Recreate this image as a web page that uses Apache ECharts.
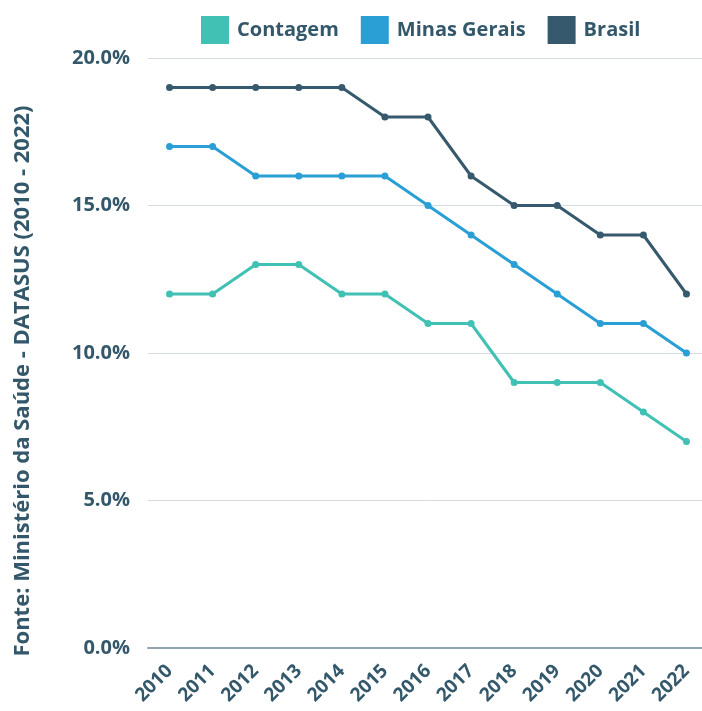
<!DOCTYPE html>
<html>
<head>
<meta charset="utf-8">
<script src="https://cdn.jsdelivr.net/npm/echarts@6/dist/echarts.min.js"></script>
<style>
  html, body { margin: 0; padding: 0; background: #fff; }
  #main { width: 702px; height: 711px; }
</style>
</head>
<body>
<div id="main"></div>
<script>
// dados do gráfico
var anos = ['2010', '2011', '2012', '2013', '2014', '2015', '2016', '2017', '2018', '2019', '2020', '2021', '2022'];
var contagem = [12, 12, 13, 13, 12, 12, 11, 11, 9, 9, 9, 8, 7];
var minasGerais = [17, 17, 16, 16, 16, 16, 15, 14, 13, 12, 11, 11, 10];
var brasil = [19, 19, 19, 19, 19, 18, 18, 16, 15, 15, 14, 14, 12];

var corTexto = '#34586b';
var fonte = '"Open Sans", "Noto Sans", sans-serif';

var myChart = echarts.init(document.getElementById('main'));

function serie(nome, dados, cor) {
  return {
    name: nome,
    type: 'line',
    data: dados,
    symbol: 'circle',
    symbolSize: 7,
    lineStyle: { width: 3, color: cor },
    itemStyle: { color: cor },
    animation: false
  };
}

var option = {
  backgroundColor: '#fff',
  textStyle: { fontFamily: fonte },
  legend: {
    top: 11,
    left: 196,
    icon: 'rect',
    itemWidth: 28,
    itemHeight: 28,
    itemGap: 22,
    textStyle: { color: corTexto, fontSize: 20, fontWeight: 'bold', fontFamily: fonte, padding: [0, 0, 0, 3] },
    data: ['Contagem', 'Minas Gerais', 'Brasil']
  },
  grid: {
    left: 148,
    right: -6,
    top: 58,
    bottom: 63,
    containLabel: false,
    outerBoundsMode: 'none'
  },
  xAxis: {
    type: 'category',
    data: anos,
    boundaryGap: true,
    axisLine: { lineStyle: { color: '#8fa3b0', width: 2 } },
    axisTick: { show: false },
    axisLabel: {
      rotate: 45,
      color: corTexto,
      fontSize: 19,
      fontWeight: 'bold',
      fontFamily: fonte,
      margin: 20,
      interval: 0
    }
  },
  yAxis: {
    type: 'value',
    min: 0,
    max: 20,
    interval: 5,
    name: 'Fonte: Ministério da Saúde - DATASUS (2010 - 2022)',
    nameLocation: 'middle',
    nameGap: 114,
    nameTextStyle: { color: corTexto, fontSize: 22, fontWeight: 'bold', fontFamily: fonte, padding: [0, 56, 0, 0] },
    axisLine: { show: false },
    axisTick: { show: false },
    splitLine: { lineStyle: { color: '#d5dde2', width: 1 } },
    axisLabel: {
      color: corTexto,
      fontSize: 20,
      fontWeight: 'bold',
      fontFamily: fonte,
      margin: 18,
      formatter: function (v) { return v.toFixed(1) + '%'; }
    }
  },
  series: [
    serie('Contagem', contagem, '#41c0b4'),
    serie('Minas Gerais', minasGerais, '#2a9fd6'),
    serie('Brasil', brasil, '#36596d')
  ]
};

myChart.setOption(option);
</script>
</body>
</html>
